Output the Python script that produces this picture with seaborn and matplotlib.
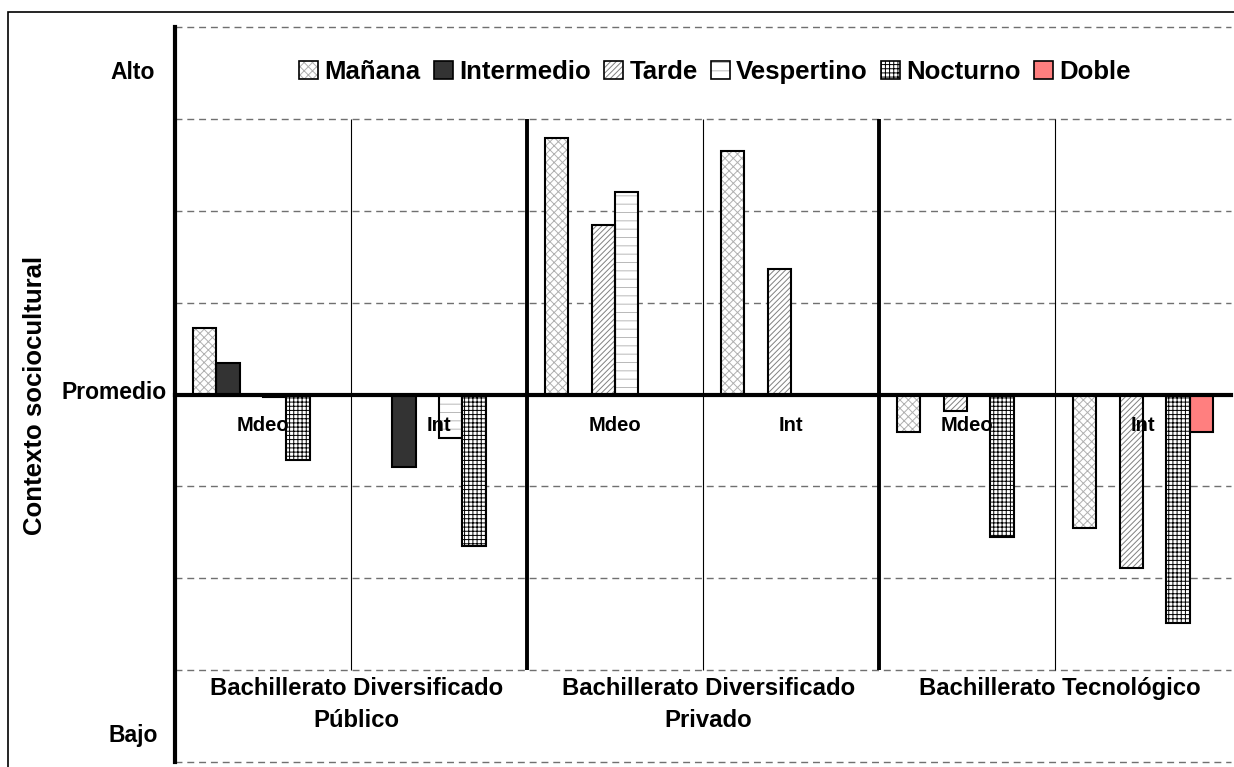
import matplotlib
matplotlib.use('Agg')
import matplotlib.pyplot as plt
import seaborn as sns
import pandas as pd
from matplotlib.patches import Patch, Rectangle

# subgrupos (Montevideo / Interior) de cada tipo de bachillerato
subgrupos = ['Pub-Mdeo', 'Pub-Int', 'Priv-Mdeo', 'Priv-Int', 'Tec-Mdeo', 'Tec-Int']
etiquetas_sub = ['Mdeo', 'Int', 'Mdeo', 'Int', 'Mdeo', 'Int']
grupos = ['Bachillerato Diversificado\nPúblico',
          'Bachillerato Diversificado\nPrivado',
          'Bachillerato Tecnológico']
turnos = ['Mañana', 'Intermedio', 'Tarde', 'Vespertino', 'Nocturno', 'Doble']

# valores (None = sin barra)
manana = [0.72, None, 2.79, 2.65, -0.41, -1.45]
intermedio = [0.34, -0.79, None, None, None, None]
tarde = [None, None, 1.85, 1.37, -0.18, -1.89]
vespertino = [-0.03, -0.47, 2.20, None, None, None]
nocturno = [-0.71, -1.65, None, None, -1.55, -2.49]
doble = [None, None, None, None, None, -0.41]

series = [manana, intermedio, tarde, vespertino, nocturno, doble]
filas = []
for turno, vals in zip(turnos, series):
    for sub, v in zip(subgrupos, vals):
        if v is not None:
            filas.append({'sub': sub, 'turno': turno, 'valor': v})
df = pd.DataFrame(filas)

# estilo de cada turno: relleno, trama, color de trama
estilos = {
    'Mañana': ('white', 'xxxx', '#b0b0b0'),
    'Intermedio': ('#333333', '', '#333333'),
    'Tarde': ('white', '//////', '#808080'),
    'Vespertino': ('white', '--', '#b8b8b8'),
    'Nocturno': ('white', '++++', '#000000'),
    'Doble': ('#ff7f7f', '', '#ff7f7f'),
}

sns.set_style('white')
plt.rcParams['font.family'] = ['Liberation Sans', 'DejaVu Sans']
plt.rcParams['font.weight'] = 'bold'
plt.rcParams['text.color'] = 'black'
plt.rcParams['axes.edgecolor'] = 'black'
plt.rcParams['xtick.color'] = 'black'
plt.rcParams['ytick.color'] = 'black'
plt.rcParams['hatch.linewidth'] = 0.7

fig = plt.figure(figsize=(12.34, 7.67), dpi=100)
ax = fig.add_axes([175 / 1234, 5 / 767, 1056 / 1234, 735 / 767])

sns.barplot(data=df, x='sub', y='valor', hue='turno', order=subgrupos,
            hue_order=turnos, width=0.8, dodge=True, errorbar=None,
            saturation=1, legend=False, ax=ax)

# tramas y bordes negros
for cont, turno in zip(ax.containers, turnos):
    fc, hatch, hc = estilos[turno]
    for bar in cont:
        bar.set_facecolor(fc)
        bar.set_hatch(hatch)
        bar.set_edgecolor(hc)
        bar.set_linewidth(0)
        ax.add_patch(Rectangle((bar.get_x(), bar.get_y()), bar.get_width(), bar.get_height(),
                               fill=False, ec='black', lw=1.5, zorder=3))

ax.set_xlim(-0.5, 5.5)
ax.set_ylim(-4, 4)

# lineas de grilla punteadas
for y in range(-4, 5):
    if y != 0:
        ax.plot([-0.5, 5.5], [y, y], ls=(0, (5, 3.5)), color='#707070', lw=1,
                clip_on=False, zorder=0)

# separadores verticales
ax.vlines([1.5, 3.5], -3, 3, color='black', lw=2.8, zorder=2)
ax.vlines([0.5, 2.5, 4.5], -3, 3, color='black', lw=0.8, zorder=2)

for s in ['top', 'right']:
    ax.spines[s].set_visible(False)
ax.spines['left'].set_linewidth(3)
ax.spines['bottom'].set_position(('data', 0))
ax.spines['bottom'].set_linewidth(3)
ax.spines['bottom'].set_zorder(4)

ax.set_xticks([0.5, 1.5, 2.5, 3.5, 4.5, 5.5])
ax.set_xticklabels([])
ax.set_yticks(range(-4, 5))
ax.set_yticklabels([])
ax.tick_params(axis='both', direction='out', length=4, width=2.5, color='black')
ax.set_xlabel('')
ax.set_ylabel('')

# etiquetas de subgrupo y grupo
for i, lab in enumerate(etiquetas_sub):
    ax.text(i, -0.34, lab, ha='center', va='center', fontsize=14.5,
            fontweight='bold', zorder=6)
for i, lab in enumerate(grupos):
    ax.text(2 * i + 0.53, -3.07, lab, ha='center', va='top', fontsize=17.2,
            fontweight='bold', linespacing=1.5)

# etiquetas del eje y
ax.text(-0.74, 3.5, 'Alto', ha='center', va='center', fontsize=16.5, fontweight='bold')
ax.text(-0.55, 0.02, 'Promedio', ha='right', va='center', fontsize=16.5, fontweight='bold')
ax.text(-0.74, -3.71, 'Bajo', ha='center', va='center', fontsize=16.5, fontweight='bold')
fig.text(35 / 1234, 1 - 395 / 767, 'Contexto sociocultural', rotation=90,
         ha='center', va='center', fontsize=18.5, fontweight='bold')

# leyenda
handles = []
for t in turnos:
    fc, hatch, hc = estilos[t]
    handles.append((Patch(facecolor=fc, hatch=hatch, edgecolor=hc, lw=0),
                    Patch(fill=False, edgecolor='black', lw=1.2)))
fig.legend(handles, turnos, loc='center', bbox_to_anchor=(715 / 1234, 1 - 72 / 767),
           ncol=6, frameon=False, prop={'size': 18.5, 'weight': 'bold'},
           handlelength=0.75, handleheight=0.75, handletextpad=0.25,
           columnspacing=0.5)

# marco de la figura
fig.add_artist(Rectangle((8 / 1234, -0.1), 1.2, 1.1 - 12 / 767, transform=fig.transFigure,
                         fill=False, ec='black', lw=1.2))

fig.savefig('out.png', dpi=100)
